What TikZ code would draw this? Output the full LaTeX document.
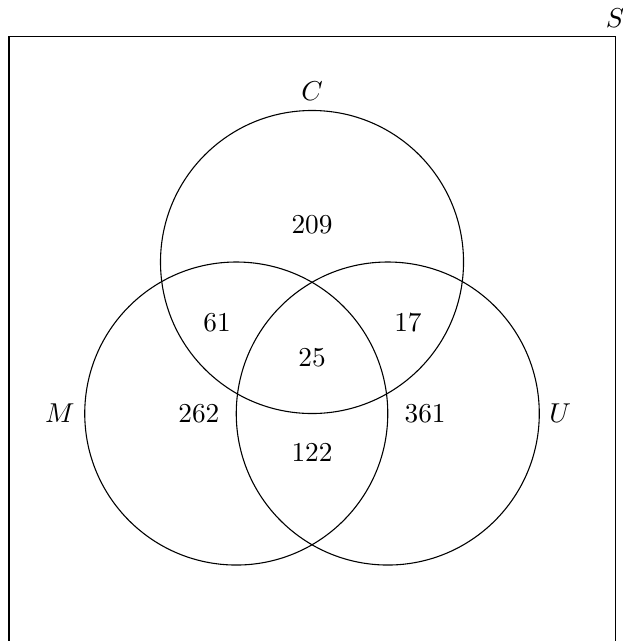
\documentclass[tikz,border=0pt]{standalone}
\begin{document}
\begin{tikzpicture}[x=1.3cm,y=1.3cm,
  setcircle/.style={draw},
  num/.style={inner sep=0pt}]
\useasboundingbox (-3.089,-2.252) rectangle (3.069,4.094);
\draw (-3,-2.27) rectangle (3,3.73);
\coordinate (corner) at (3,3.73);
\node[above] (S) at (corner) {$S$};
\node[setcircle,circle,minimum size=3.9cm,inner sep=0pt] (Cc) at (0,1.5) {};
\node[setcircle,circle,minimum size=3.9cm,inner sep=0pt] (Mc) at (-0.75,0) {};
\node[setcircle,circle,minimum size=3.9cm,inner sep=0pt] (Uc) at (0.75,0) {};
\node[above] (C) at (Cc.north) {$C$};
\node[left] (M) at (Mc.west) {$M$};
\node[right] (U) at (Uc.east) {$U$};
\node[num] (n209) at (0,1.866) {209};
\node[num] (n61) at (-0.94,0.896) {61};
\node[num] (n17) at (0.95,0.896) {17};
\node[num] (n25) at (0,0.55) {25};
\node[num] (n262) at (-1.12,0) {262};
\node[num] (n361) at (1.12,0) {361};
\node[num] (n122) at (0,-0.38) {122};
\end{tikzpicture}
\end{document}
